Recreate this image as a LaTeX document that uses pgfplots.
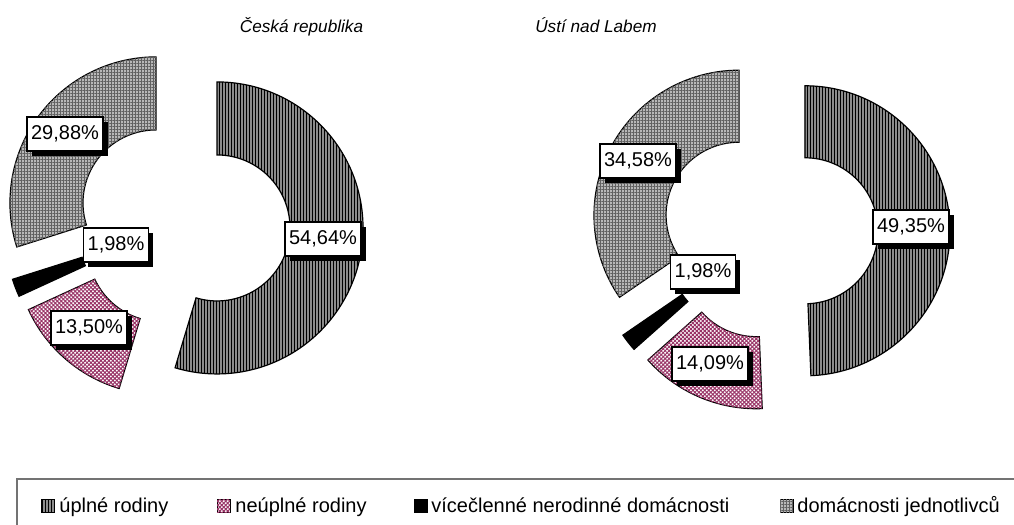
\documentclass[border=0pt]{standalone}
\usepackage{pgfplots}
\pgfplotsset{compat=1.18}
\usepackage{fontspec}
\setmainfont{Liberation Sans}
\usetikzlibrary{patterns.meta,shadows}
\definecolor{plum}{RGB}{153,51,102}
\tikzset{
 sdark/.style={draw=black, line width=0.6pt, fill=black!45, postaction={pattern={Lines[angle=90,distance=1.5pt,line width=0.45pt]}, pattern color=black}},
 spink/.style={draw=black, line width=0.6pt, fill=white, postaction={pattern={Hatch[angle=45,distance=1.4pt,line width=0.5pt]}, pattern color=plum}},
 sgray/.style={draw=black, line width=0.6pt, fill=black!28, postaction={pattern={Hatch[angle=0,distance=1.5pt,line width=0.4pt]}, pattern color=black!62}},
 sblack/.style={draw=black, line width=0.6pt, fill=black},
 lab/.style={draw=black, line width=0.6pt, fill=white, inner xsep=2pt, inner ysep=0pt, minimum height=17pt,
   font=\fontsize{10}{11}\selectfont,
   drop shadow={shadow xshift=2.3pt, shadow yshift=-2.3pt, fill=black, opacity=1}},
 leg/.style={anchor=base west, inner sep=0pt, font=\fontsize{10}{12}\selectfont},
}
% #1 cx, #2 cy, #3 R, #4 r, #5 explode, #6 start angle, #7 end angle, #8 style (pixels, screen y down)
\newcommand\seg[8]{%
\pgfplotsextra{%
\pgfmathsetmacro\bis{(#6+#7)/2}%
\pgfmathsetmacro\ex{#1+#5*cos(\bis)}%
\pgfmathsetmacro\ey{#2-#5*sin(\bis)}%
\pgfmathsetmacro\pax{\ex+#3*cos(#6)}%
\pgfmathsetmacro\pay{\ey-#3*sin(#6)}%
\pgfmathsetmacro\pbx{\ex+#4*cos(#7)}%
\pgfmathsetmacro\pby{\ey-#4*sin(#7)}%
\pgfmathsetmacro\Ro{#3*0.5}%
\pgfmathsetmacro\Ri{#4*0.5}%
\path[#8] (axis cs:\pax,\pay) arc[start angle=#6,end angle=#7,radius=\Ro pt]
  -- (axis cs:\pbx,\pby) arc[start angle=#7,end angle=#6,radius=\Ri pt] -- cycle;
}}
% data: Česká republika
\def\CRa{54.64}\def\CRb{13.50}\def\CRc{1.98}\def\CRd{29.88}
% data: Ústí nad Labem
\def\ULa{49.35}\def\ULb{14.09}\def\ULc{1.98}\def\ULd{34.58}
\begin{document}
\begin{tikzpicture}
\pgfmathsetmacro\CRta{90-3.6*\CRa}
\pgfmathsetmacro\CRtb{\CRta-3.6*\CRb}
\pgfmathsetmacro\CRtc{\CRtb-3.6*\CRc}
\pgfmathsetmacro\ULta{90-3.6*\ULa}
\pgfmathsetmacro\ULtb{\ULta-3.6*\ULb}
\pgfmathsetmacro\ULtc{\ULtb-3.6*\ULc}
\begin{axis}[at={(0,0)}, anchor=south west, scale only axis, width=507pt, height=262.5pt,
  xmin=0, xmax=1014, ymin=0, ymax=525, y dir=reverse, hide axis, clip=false]
\coordinate (TL) at (axis cs:0,0);
\coordinate (BR) at (axis cs:1014,525);
% left doughnut
\seg{183.4}{223}{146}{73}{34}{90}{\CRta}{sdark}
\seg{183.4}{223}{146}{73}{34}{\CRta}{\CRtb}{spink}
\seg{183.4}{223}{146}{73}{34}{\CRtb}{\CRtc}{sblack}
\seg{183.4}{223}{146}{73}{34}{\CRtc}{-270}{sgray}
% right doughnut
\seg{770}{231.5}{145}{73}{35}{90}{\ULta}{sdark}
\seg{770}{231.5}{145}{73}{35}{\ULta}{\ULtb}{spink}
\seg{770}{231.5}{145}{73}{35}{\ULtb}{\ULtc}{sblack}
\seg{770}{231.5}{145}{73}{35}{\ULtc}{-270}{sgray}
% labels
\node[lab] at (axis cs:65,134) {29,88\%};
\node[lab] at (axis cs:116,245) {1,98\%};
\node[lab] at (axis cs:89,328) {13,50\%};
\node[lab] at (axis cs:323,239) {54,64\%};
\node[lab] at (axis cs:638,161) {34,58\%};
\node[lab] at (axis cs:703,272) {1,98\%};
\node[lab] at (axis cs:710,364) {14,09\%};
\node[lab] at (axis cs:911,227) {49,35\%};
% titles
\node[anchor=base, inner sep=0pt, font=\fontsize{8.6}{10}\selectfont\itshape] at (axis cs:301.5,32) {Česká republika};
\node[anchor=base, inner sep=0pt, font=\fontsize{8.6}{10}\selectfont\itshape] at (axis cs:596,32) {Ústí nad Labem};
% legend
\draw[line width=0.6pt, black!55] (axis cs:17,530) -- (axis cs:17,479) -- (axis cs:1020,479);
\path[sdark, line width=0.4pt] (axis cs:41,499) rectangle (axis cs:54,512);
\node[leg] at (axis cs:59,512) {úplné rodiny};
\path[spink, line width=0.4pt] (axis cs:217,499) rectangle (axis cs:230,512);
\node[leg] at (axis cs:235,512) {neúplné rodiny};
\path[sblack, line width=0.4pt] (axis cs:414,499) rectangle (axis cs:427,512);
\node[leg] at (axis cs:431,512) {vícečlenné nerodinné domácnosti};
\path[sgray, line width=0.4pt] (axis cs:780,499) rectangle (axis cs:793,512);
\node[leg] at (axis cs:797,512) {domácnosti jednotlivců};
\end{axis}
\pgfresetboundingbox
\path (TL) rectangle (BR);
\end{tikzpicture}
\end{document}
